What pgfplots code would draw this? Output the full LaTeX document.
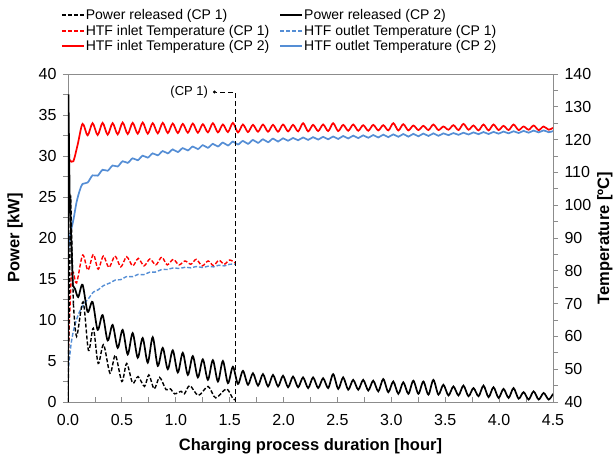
\documentclass[border=0pt]{standalone}
\usepackage{fontspec}
\setmainfont{Liberation Sans}
\usepackage{pgfplots}
\pgfplotsset{compat=1.18}
\usetikzlibrary{arrows.meta}
\definecolor{hred}{RGB}{255,0,0}
\definecolor{hblue}{RGB}{85,142,213}
\definecolor{axgray}{RGB}{140,140,140}
\begin{document}
\begin{tikzpicture}[font=\fontsize{14bp}{16bp}\selectfont]
\pgfplotsset{
  every axis/.append style={
    scale only axis, width=485bp, height=328bp,
    xmin=0, xmax=4.5,
    axis line style={axgray, line width=0.8bp},
    /pgf/number format/assume math mode=true,
    major tick length=5bp, minor tick length=5bp,
    every tick/.style={axgray, line width=0.8bp},
    tick label style={font=\fontsize{16bp}{18bp}\selectfont},
  },
}
% ---------------- temperature axis (right) ----------------
\begin{axis}[
  ymin=40, ymax=140,
  axis y line*=right,
  hide x axis,
  ytick={40,50,...,140}, minor ytick={45,55,...,135},
  tick align=outside,
  ylabel={Temperature [ºC]},
  every axis y label/.style={at={(axis description cs:1.107,0.5)}, anchor=center, rotate=90, font=\bfseries\fontsize{16.5bp}{18bp}\selectfont},
  yticklabel style={xshift=3bp},
  legend columns=2,
  legend cell align=left,
  legend style={draw=none, fill=none, at={(-0.021,1.207)}, anchor=north west,
    font=\fontsize{14bp}{16bp}\selectfont, row sep=2bp,
    nodes={inner sep=1bp},
    /tikz/every even column/.append style={column sep=9bp}},
  legend image code/.code={\draw[#1] (0bp,0bp) -- (22bp,0bp);},
]
\addlegendimage{black, line width=1.6bp, dash pattern=on 4bp off 2bp}
\addlegendentry{Power released (CP 1)}
\addlegendimage{black, line width=1.8bp}
\addlegendentry{Power released (CP 2)}
\addlegendimage{hred, line width=1.6bp, dash pattern=on 4bp off 2bp}
\addlegendentry{HTF inlet Temperature (CP 1)}
\addlegendimage{hblue, line width=1.6bp, dash pattern=on 4bp off 2bp}
\addlegendentry{HTF outlet Temperature (CP 1)}
\addlegendimage{hred, line width=1.8bp}
\addlegendentry{HTF inlet Temperature (CP 2)}
\addlegendimage{hblue, line width=1.8bp}
\addlegendentry{HTF outlet Temperature (CP 2)}

% HTF outlet CP2
\addplot[forget plot, hblue, line width=1.7bp, smooth] coordinates {
(0,85.5)(0.02,91)(0.05,95.5)(0.08,101)(0.11,104.6)
(0.135,106.5)(0.182,106.9)(0.228,109.1)(0.275,109.0)(0.321,110.8)(0.368,110.5)(0.414,112.1)(0.461,111.8)(0.507,113.4)(0.554,112.9)(0.600,114.3)(0.647,113.7)(0.693,115.1)(0.740,114.5)(0.786,115.8)(0.833,115.2)(0.879,116.5)(0.926,115.8)(0.972,117.0)(1.019,116.2)(1.065,117.4)(1.112,116.7)(1.158,117.9)(1.205,117.1)(1.251,118.3)(1.298,117.5)(1.344,118.7)(1.391,117.9)(1.437,119.1)(1.484,118.2)(1.530,119.4)(1.577,118.5)(1.623,119.6)(1.670,118.7)(1.716,119.9)(1.763,119.0)(1.809,120.1)(1.856,119.2)(1.902,120.3)(1.949,119.4)(1.995,120.4)(2.042,119.65)(2.088,120.5)(2.135,119.8)(2.181,120.65)(2.228,119.9)(2.274,120.75)(2.321,120.0)(2.367,120.85)(2.414,120.1)(2.460,120.95)(2.507,120.2)(2.553,121.1)(2.600,120.35)(2.646,121.2)(2.693,120.45)(2.739,121.3)(2.786,120.55)(2.832,121.4)(2.879,120.65)(2.925,121.5)(2.972,120.75)(3.018,121.6)(3.065,120.85)(3.111,121.7)(3.158,120.9)(3.204,121.75)(3.251,121.0)(3.297,121.85)(3.344,121.1)(3.390,121.9)(3.437,121.15)(3.483,121.9)(3.530,121.35)(3.576,122.0)(3.623,121.45)(3.669,122.1)(3.716,121.55)(3.762,122.2)(3.809,121.65)(3.855,122.3)(3.902,121.7)(3.948,122.35)(3.995,121.8)(4.041,122.45)(4.088,121.9)(4.134,122.55)(4.181,122.0)(4.227,122.65)(4.274,122.1)(4.320,122.75)(4.367,122.2)(4.413,122.8)(4.460,122.25)(4.5,122.6)
};
% HTF inlet CP2
\addplot[forget plot, hred, line width=1.7bp] coordinates {(0,114.5)(0.02,113.6)};
\addplot[forget plot, hred, line width=1.7bp, smooth] coordinates {
(0.02,113.6)(0.05,113.4)(0.09,118.5)(0.135,124.8)(0.182,121.3)(0.228,125.0)(0.275,121.4)(0.321,125.1)(0.368,121.5)(0.414,125.0)(0.461,121.6)(0.507,125.2)(0.554,121.7)(0.600,125.1)(0.647,121.8)(0.693,125.2)(0.740,121.8)(0.786,125.0)(0.833,121.9)(0.879,125.1)(0.926,122.0)(0.972,124.9)(1.019,122.0)(1.065,124.8)(1.112,122.1)(1.158,124.9)(1.205,122.1)(1.251,124.7)(1.298,122.2)(1.344,125.0)(1.391,122.2)(1.437,124.6)(1.484,122.3)(1.530,125.1)(1.577,122.2)(1.623,124.6)(1.670,122.3)(1.716,124.5)(1.763,122.4)(1.809,124.6)(1.856,122.4)(1.902,124.5)(1.949,122.4)(1.995,124.6)(2.042,122.5)(2.088,124.5)(2.135,122.5)(2.181,125.0)(2.228,122.5)(2.274,124.5)(2.321,122.6)(2.367,124.6)(2.414,122.6)(2.460,125.0)(2.507,122.6)(2.553,124.5)(2.600,122.7)(2.646,124.6)(2.693,122.7)(2.739,124.4)(2.786,122.7)(2.832,124.5)(2.879,122.8)(2.925,124.4)(2.972,122.8)(3.018,125.0)(3.065,122.8)(3.111,124.7)(3.158,122.8)(3.204,124.3)(3.251,122.9)(3.297,124.2)(3.344,122.9)(3.390,124.6)(3.437,122.9)(3.483,124.0)(3.530,123.0)(3.576,124.4)(3.623,122.9)(3.669,124.8)(3.716,123.0)(3.762,124.3)(3.809,122.8)(3.855,124.6)(3.902,122.8)(3.948,124.6)(3.995,122.9)(4.041,124.2)(4.088,122.9)(4.134,124.6)(4.181,122.9)(4.227,124.0)(4.274,123.0)(4.320,124.3)(4.367,122.9)(4.413,124.0)(4.460,123.0)(4.5,123.6)
};
% HTF outlet CP1
\addplot[forget plot, hblue, line width=1.4bp, dash pattern=on 4bp off 2bp, smooth] coordinates {
(0,49)(0.03,58)(0.06,63)(0.10,67)(0.15,70)(0.19,71.5)(0.235,73.5)(0.28,74.2)(0.33,75.5)(0.39,76.3)(0.44,77.2)(0.49,77.3)(0.54,78.2)(0.60,78.2)(0.65,78.9)(0.70,78.8)(0.76,79.6)(0.81,79.6)(0.87,80.4)(0.92,80.4)(0.98,80.9)(1.03,80.7)(1.09,81.1)(1.14,80.9)(1.19,81.3)(1.25,81.0)(1.30,81.4)(1.35,81.2)(1.40,81.7)(1.45,81.5)(1.50,82.0)(1.55,82.0)
};
% HTF inlet CP1
\addplot[forget plot, hred, line width=1.4bp, dash pattern=on 4bp off 2bp] coordinates {(0,53)(0.03,79)};
\addplot[forget plot, hred, line width=1.4bp, dash pattern=on 4bp off 2bp, smooth] coordinates {
(0.03,79)(0.05,79.5)(0.08,76.3)(0.136,84.8)(0.185,80.2)(0.235,85.0)(0.28,80.5)(0.328,84.5)(0.38,81.0)(0.436,84.5)(0.49,81.2)(0.544,84.3)(0.60,81.5)(0.652,83.8)(0.705,81.5)(0.76,83.6)(0.815,81.8)(0.87,84.2)(0.92,81.8)(0.977,83.5)(1.03,81.8)(1.085,83.0)(1.14,82.0)(1.19,83.5)(1.245,81.5)(1.30,83.0)(1.35,81.6)(1.40,83.2)(1.45,82.0)(1.50,83.3)(1.55,82.4)
};
\end{axis}
% ---------------- power axis (left) ----------------
\begin{axis}[
  name=pw,
  ymin=0, ymax=40,
  ytick={0,5,...,40}, minor ytick={2.5,7.5,...,37.5},
  xtick={0,0.5,...,4.5}, minor xtick={0.25,0.75,...,4.25},
  xtick pos=bottom, ytick pos=left,
  tick align=outside,
  xtick style={yshift=5bp},
  xticklabel style={/pgf/number format/fixed, /pgf/number format/fixed zerofill, /pgf/number format/precision=1, yshift=-4bp},
  yticklabel style={xshift=-3bp},
  xlabel={Charging process duration [hour]},
  ylabel={Power [kW]},
  every axis x label/.style={at={(axis description cs:0.5,-0.135)}, anchor=center, font=\bfseries\fontsize{16.5bp}{18bp}\selectfont},
  every axis y label/.style={at={(axis description cs:-0.109,0.5)}, anchor=center, rotate=90, font=\bfseries\fontsize{16.5bp}{18bp}\selectfont},
]
% Power released CP1
\addplot[black, line width=1.4bp, dash pattern=on 4bp off 2bp] coordinates {(0,0)(0.025,25.2)(0.05,12)};
\addplot[black, line width=1.4bp, dash pattern=on 4bp off 2bp, smooth] coordinates {
(0.05,12)(0.08,8)(0.14,12.2)(0.19,6.3)(0.235,9.0)(0.28,4.7)(0.33,7.0)(0.39,3.5)(0.44,5.7)(0.50,2.5)(0.545,4.7)(0.60,2.3)(0.65,3.1)(0.71,1.9)(0.75,3.3)(0.80,1.6)(0.85,3.0)(0.91,1.5)(0.95,1.6)(0.99,1.0)(1.05,1.3)(1.08,1.0)(1.13,2.0)(1.21,0.8)(1.30,1.9)(1.37,0.5)(1.47,1.6)(1.53,0.4)(1.55,0.3)
};
% Power released CP2
\addplot[black, line width=1.7bp] coordinates {(0,0)(0.004,37.5)(0.015,25.5)(0.03,20)(0.045,14.2)};
\addplot[black, line width=1.7bp, smooth] coordinates {
(0.045,14.2)(0.065,13.8)(0.095,12.8)(0.135,14.3)(0.182,11.0)(0.228,12.2)(0.275,8.8)(0.321,10.6)(0.368,7.5)(0.414,9.4)(0.461,6.6)(0.507,8.8)(0.554,5.8)(0.600,8.4)(0.647,5.4)(0.693,7.8)(0.740,4.8)(0.786,7.9)(0.833,4.4)(0.879,6.6)(0.926,4.0)(0.972,6.3)(1.019,3.6)(1.065,6.0)(1.112,3.3)(1.158,5.6)(1.205,3.0)(1.251,5.2)(1.298,2.7)(1.344,5.1)(1.391,2.5)(1.437,5.0)(1.484,2.3)(1.530,4.3)(1.577,2.2)(1.623,3.8)(1.670,2.1)(1.716,3.5)(1.763,2.0)(1.809,3.4)(1.856,1.9)(1.902,3.3)(1.949,1.9)(1.995,3.2)(2.042,1.8)(2.088,3.1)(2.135,1.8)(2.181,3.0)(2.228,1.7)(2.274,3.0)(2.321,1.7)(2.367,2.9)(2.414,1.7)(2.460,3.4)(2.507,1.6)(2.553,3.0)(2.600,1.5)(2.646,2.7)(2.693,1.5)(2.739,2.7)(2.786,1.4)(2.832,2.6)(2.879,1.3)(2.925,2.8)(2.972,1.2)(3.018,2.5)(3.065,1.0)(3.111,2.4)(3.158,1.0)(3.204,2.6)(3.251,1.0)(3.297,2.5)(3.344,0.9)(3.390,2.7)(3.437,0.9)(3.483,2.1)(3.530,0.8)(3.576,1.9)(3.623,0.8)(3.669,2.0)(3.716,0.7)(3.762,1.7)(3.809,0.7)(3.855,2.0)(3.902,0.6)(3.948,1.8)(3.995,0.5)(4.041,1.6)(4.088,0.5)(4.134,1.7)(4.181,0.4)(4.227,1.2)(4.274,0.3)(4.320,1.3)(4.367,0.3)(4.413,1.1)(4.460,0.3)(4.5,1.0)
};
% CP 1 end marker
\addplot[black, line width=0.8bp, dash pattern=on 5bp off 3bp, -{Circle[length=3bp]}] coordinates {(1.55,0)(1.55,37.8)(1.345,37.8)};
\node[anchor=east, inner sep=1bp, font=\fontsize{13bp}{15bp}\selectfont] at (axis cs:1.31,37.8) {(CP 1)};
\end{axis}
\pgfresetboundingbox
\path[use as bounding box] ([shift={(-68bp,-55bp)}]pw.south west) rectangle ([shift={(63bp,74bp)}]pw.north east);
\end{tikzpicture}
\end{document}
